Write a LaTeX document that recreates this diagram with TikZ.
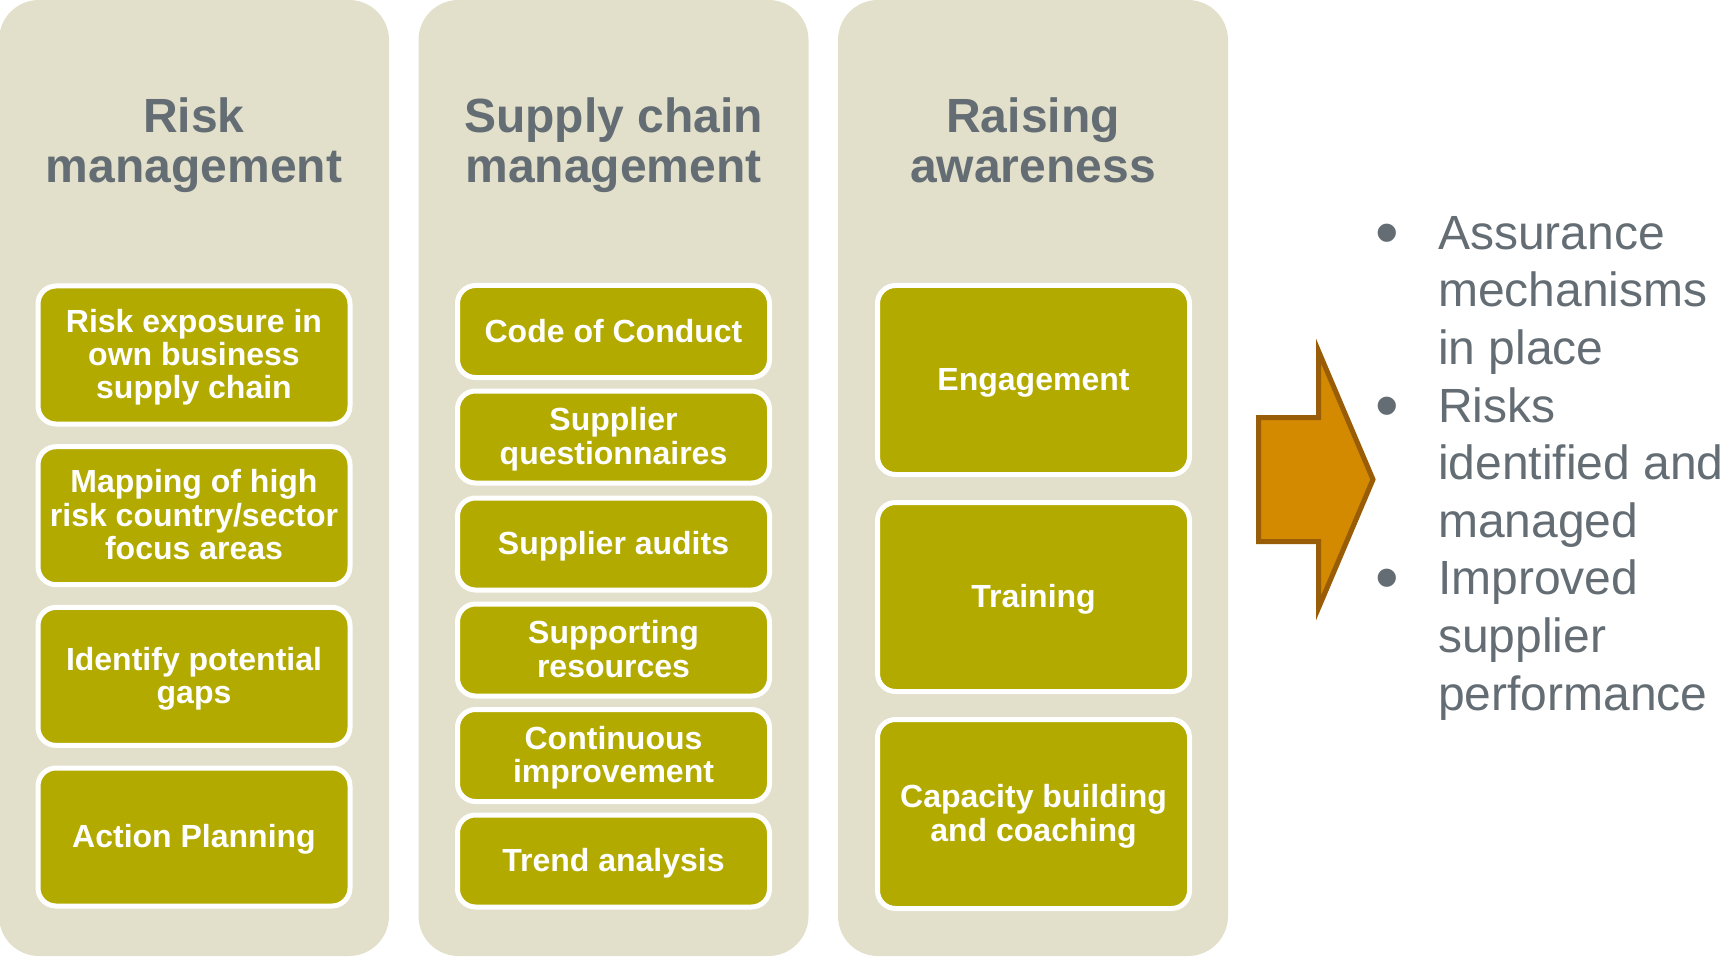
\documentclass[tikz,border=0pt]{standalone}
\usepackage{fontspec}
\setmainfont{Liberation Sans}
\definecolor{panelbg}{RGB}{226,224,202}
\definecolor{boxfill}{RGB}{179,170,0}
\definecolor{titlegray}{RGB}{99,109,115}
\definecolor{arrowfill}{RGB}{211,137,0}
\definecolor{arrowline}{RGB}{153,93,8}
\newcommand\bxtop{\rule{0pt}{28pt}}
\newcommand\bxbot{\rule[-7pt]{0pt}{7pt}}
\newcommand\tttop{\rule{0pt}{45pt}}
\newcommand\ttbot{\rule[-11pt]{0pt}{11pt}}
\newcommand\bul{\makebox[60pt][l]{\hspace*{-3pt}\raisebox{-6pt}{\scalebox{1.4}{•}}}}
\newcommand\ind{\hspace*{60pt}}
\tikzset{
  panel/.style={fill=panelbg, draw=none, rounded corners=40pt, minimum width=390pt, minimum height=956pt, inner sep=0pt, outer sep=0pt},
  ptitle/.style={text=titlegray, align=center, inner sep=0pt, font=\fontsize{48}{50}\selectfont\bfseries,
    execute at begin node=\tttop, execute at end node=\ttbot},
  gbox/.style={fill=boxfill, draw=white, line width=5pt, rounded corners=18pt, text=white, align=center,
    inner sep=0pt, minimum width=312pt, font=\fontsize{32}{33.4}\selectfont\bfseries,
    execute at begin node=\bxtop, execute at end node=\bxbot},
  gboxA/.style={gbox, minimum height=138pt},
  gboxB/.style={gbox, minimum height=92pt},
  gboxC/.style={gbox, minimum height=189pt},
  outlist/.style={text=titlegray, align=left, inner sep=0pt, anchor=north west, font=\fontsize{48}{57.6}\selectfont},
  bigarrow/.style={fill=arrowfill, draw=arrowline, line width=5pt, line join=miter}
}
\begin{document}
\begin{tikzpicture}[x=1pt, y=-1pt]
\useasboundingbox (0,0) rectangle (1723,957);
% panels
\node[panel] (p1) at (194,478) {};
\node[panel] (p2) at (613.5,478) {};
\node[panel] (p3) at (1033,478) {};
% titles
\node[ptitle] (t1) at (194,145.5) {Risk\\management};
\node[ptitle] (t2) at (613.5,145.5) {Supply chain\\management};
\node[ptitle] (t3) at (1033,145.5) {Raising\\awareness};
% column 1
\node[gboxA] (a1) at (194,355) {\bxtop Risk exposure in\\own business\\supply chain};
\node[gboxA] (a2) at (194,515.7) {\bxtop Mapping of high\\risk country/sector\\focus areas};
\node[gboxA] (a3) at (194,676.4) {\bxtop Identify potential\\gaps};
\node[gboxA] (a4) at (194,837) {Action Planning};
% column 2
\node[gboxB] (b1) at (613.5,331.5) {Code of Conduct};
\node[gboxB] (b2) at (613.5,437) {\bxtop Supplier\\questionnaires};
\node[gboxB] (b3) at (613.5,544) {Supplier audits};
\node[gboxB] (b4) at (613.5,650) {\bxtop Supporting\\resources};
\node[gboxB] (b5) at (613.5,755.5) {\bxtop Continuous\\improvement};
\node[gboxB] (b6) at (613.5,861) {Trend analysis};
% column 3
\node[gboxC] (c1) at (1033.5,380) {Engagement};
\node[gboxC] (c2) at (1033.5,597) {Training};
\node[gboxC] (c3) at (1033.5,814) {\bxtop Capacity building\\and coaching};
% arrow
\draw[bigarrow] (1258.5,417.5) -- (1318.5,417.5) -- (1318.5,351) -- (1373,479.5)
  -- (1318.5,608) -- (1318.5,541.5) -- (1258.5,541.5) -- cycle;
% outcomes
\node[outlist] (out) at (1378,209) {\rule{0pt}{40pt}\bul Assurance\\
\ind mechanisms\\
\ind in place\\
\bul Risks\\
\ind identified and\\
\ind managed\\
\bul Improved\\
\ind supplier\\
\ind performance};
\end{tikzpicture}
\end{document}
